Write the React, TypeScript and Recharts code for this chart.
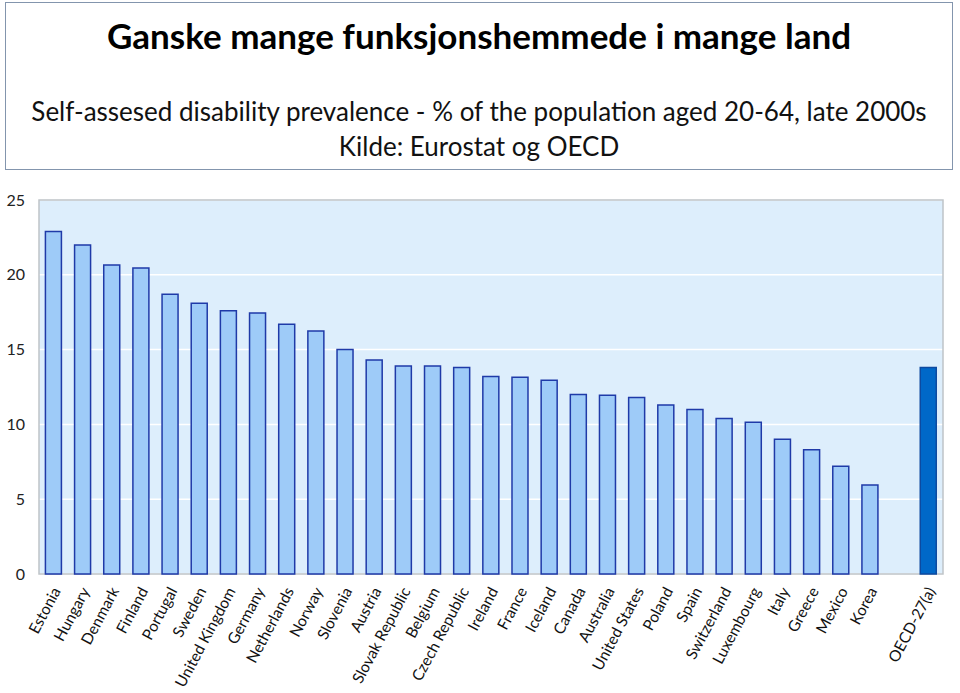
import React from "react";
import { Bar, BarChart, CartesianGrid, Cell, ReferenceArea, XAxis, YAxis } from "recharts";

const countries = [
  "Estonia", "Hungary", "Denmark", "Finland", "Portugal", "Sweden", "United Kingdom",
  "Germany", "Netherlands", "Norway", "Slovenia", "Austria", "Slovak Republic", "Belgium",
  "Czech Republic", "Ireland", "France", "Iceland", "Canada", "Australia", "United States",
  "Poland", "Spain", "Switzerland", "Luxembourg", "Italy", "Greece", "Mexico", "Korea",
  "", "OECD-27(a)"
];
const prevalence = [
  22.9, 22.0, 20.65, 20.45, 18.7, 18.1, 17.6, 17.45, 16.7, 16.25, 15.0, 14.3, 13.9, 13.9,
  13.8, 13.2, 13.15, 12.95, 12.0, 11.95, 11.8, 11.3, 11.0, 10.4, 10.15, 9.0, 8.3, 7.2, 5.95,
  null, 13.8
];
const yTicks = [0, 5, 10, 15, 20, 25];

const data = countries.map((name, i) => ({ name, value: prevalence[i] }));

const FONT = "Lato, 'Open Sans', sans-serif";

const CountryTick = (props: any) => {
  const { x, y, payload } = props;
  return (
    <g transform={`translate(${x + 4},${y + 7})`}>
      <text transform="rotate(-62)" textAnchor="end" dy={4} fontSize={15.5} fill="#111" fontFamily={FONT}>
        {payload.value}
      </text>
    </g>
  );
};

export default function App() {
  return (
    <div style={{ position: "absolute", left: 0, top: 0, width: 960, height: 693, background: "#fff", fontFamily: FONT }}>
      <div
        style={{
          position: "absolute", left: 5, top: 2, width: 948, height: 168,
          border: "1.5px solid #8395ad", boxSizing: "border-box", textAlign: "center"
        }}
      >
        <div style={{ position: "absolute", left: 0, right: 0, top: 11, fontSize: 35, fontWeight: 700, color: "#000" }}>
          Ganske mange funksjonshemmede i mange land
        </div>
        <div style={{ position: "absolute", left: 0, right: 0, top: 91, fontSize: 26, color: "#111", lineHeight: "35px" }}>
          Self-assesed disability prevalence - % of the population aged 20-64, late 2000s
          <br />
          Kilde: Eurostat og OECD
        </div>
      </div>
      <div style={{ position: "absolute", left: 0, top: 0 }}>
        <BarChart
          width={960}
          height={693}
          data={data}
          margin={{ top: 200, right: 17, left: 0, bottom: 0 }}
          barCategoryGap="22%"
        >
          <CartesianGrid vertical={false} stroke="#ffffff" strokeWidth={1.5} fill="#ddeefc" />
          <XAxis
            dataKey="name"
            interval={0}
            height={119}
            tickLine={false}
            axisLine={false}
            tick={<CountryTick />}
          />
          <YAxis
            width={39}
            domain={[0, 25]}
            ticks={yTicks}
            tickLine={false}
            axisLine={false}
            tickSize={12}
            tickMargin={2}
            tick={{ fontSize: 16, fill: "#222", fontFamily: FONT }}
          />
          <ReferenceArea y1={0} y2={25} fill="none" stroke="#bfc4c8" strokeWidth={1.5} ifOverflow="extendDomain" />
          <Bar dataKey="value" isAnimationActive={false} stroke="#1f3aa8" strokeWidth={1.5}>
            {data.map((d, i) => (
              <Cell
                key={i}
                fill={d.name.startsWith("OECD") ? "#0068c8" : "#9ecbf8"}
                stroke={d.name.startsWith("OECD") ? "#0d4aa0" : "#1f3aa8"}
              />
            ))}
          </Bar>
        </BarChart>
      </div>
    </div>
  );
}
